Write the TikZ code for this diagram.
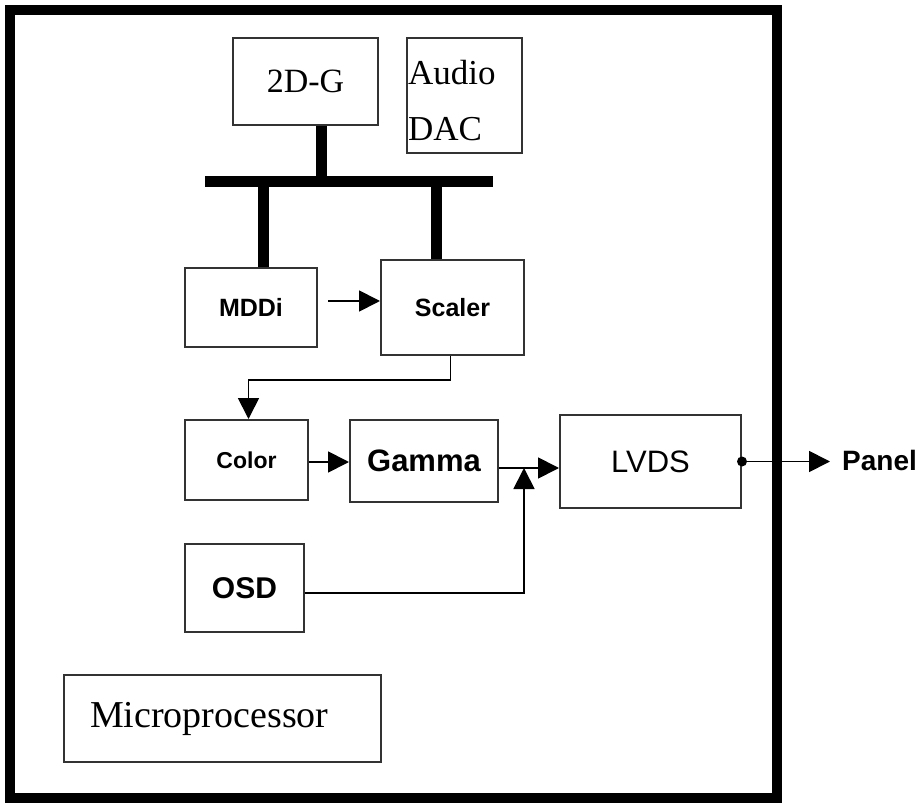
\documentclass[tikz,border=0pt]{standalone}
\usepackage{fontspec}
\setmainfont{Liberation Serif}
\setsansfont{Liberation Sans}
\usetikzlibrary{arrows.meta,calc}
\tikzset{
  block/.style={draw=black!80, line width=2pt, inner sep=0pt},
  serifbox/.style={block, font=\fontsize{34}{56}\selectfont\rmfamily},
  sansbox/.style={block, font=\fontsize{25}{30}\selectfont\sffamily\bfseries},
  bus/.style={line width=11pt, draw=black},
  sig/.style={line width=1.8pt, draw=black, -{Triangle[length=21pt,width=21pt]}},
  frame/.style={line width=10pt, draw=black}
}

\begin{document}
\begin{tikzpicture}[x=1pt,y=-1pt]
  \useasboundingbox[fill=white] (0,0) rectangle (922,805);
  \draw[frame] (10,10) rectangle (777,798);

  % top row
  \node[serifbox, minimum width=145pt, minimum height=87pt] (g2d) at (305.5,81.5) {2D-G};
  \node[serifbox, minimum width=115pt, minimum height=115pt, text width=113pt, align=left,
        text height=35pt, font=\fontsize{35}{56}\selectfont\rmfamily] (dac) at (464.5,95.5) {Audio\\DAC};

  % bus
  \coordinate (busL) at (205,182);
  \coordinate (busR) at (493,182);
  \coordinate (tapG) at (321,182);
  \coordinate (tapM) at (263,182);
  \coordinate (tapS) at (436,182);

  \node[sansbox, minimum width=132pt, minimum height=79pt] (mddi) at (251,307.5) {MDDi};
  \node[sansbox, minimum width=143pt, minimum height=95pt] (scaler) at (452.5,307.5) {Scaler};
  \node[sansbox, minimum width=123pt, minimum height=80pt, font=\fontsize{23}{28}\selectfont\sffamily\bfseries] (color) at (246.5,460) {Color};
  \node[sansbox, minimum width=148pt, minimum height=82pt, font=\fontsize{31}{36}\selectfont\sffamily\bfseries] (gamma) at (424,461) {Gamma};
  \node[sansbox, minimum width=119pt, minimum height=88pt, font=\fontsize{30}{36}\selectfont\sffamily\bfseries] (osd) at (244.5,588) {OSD};
  \node[block, minimum width=181pt, minimum height=93pt, font=\fontsize{31}{36}\selectfont\sffamily] (lvds) at (650.5,461.5) {LVDS};
  \node[block, minimum width=317pt, minimum height=87pt, text width=265pt, align=left,
        font=\fontsize{38}{42}\selectfont\rmfamily] (micro) at (222.5,718.5) {Microprocessor};
  \node[anchor=west, inner sep=0pt, inner xsep=12pt, font=\fontsize{28}{32}\selectfont\sffamily\bfseries] (panel) at (830,460) {Panel};

  \draw[bus] (busL) -- (busR);
  \draw[bus] (tapG) -- (tapG |- g2d.south);
  \draw[bus] (tapM) -- (tapM |- mddi.north);
  \draw[bus] (tapS) -- (tapS |- scaler.north);

  % signal path
  \coordinate (mdA) at (328,301);
  \coordinate (join) at (524,468);
  \draw[sig] (mdA) -- (mdA -| scaler.west);
  \draw[sig] ([xshift=-2pt]scaler.south) -- ++(0,24) -| ([xshift=2pt]color.north);
  \draw[sig] ([yshift=-2pt]color.east) -- ([yshift=-2pt]color.east -| gamma.west);
  \draw[sig] (gamma.east |- join) -- (join -| lvds.west);
  \draw[sig] ([yshift=-5pt]osd.east) -| (join);
  \fill (lvds.east) circle (5pt);
  \draw[sig] (lvds.east) -- (panel.west |- lvds.east);
\end{tikzpicture}
\end{document}
